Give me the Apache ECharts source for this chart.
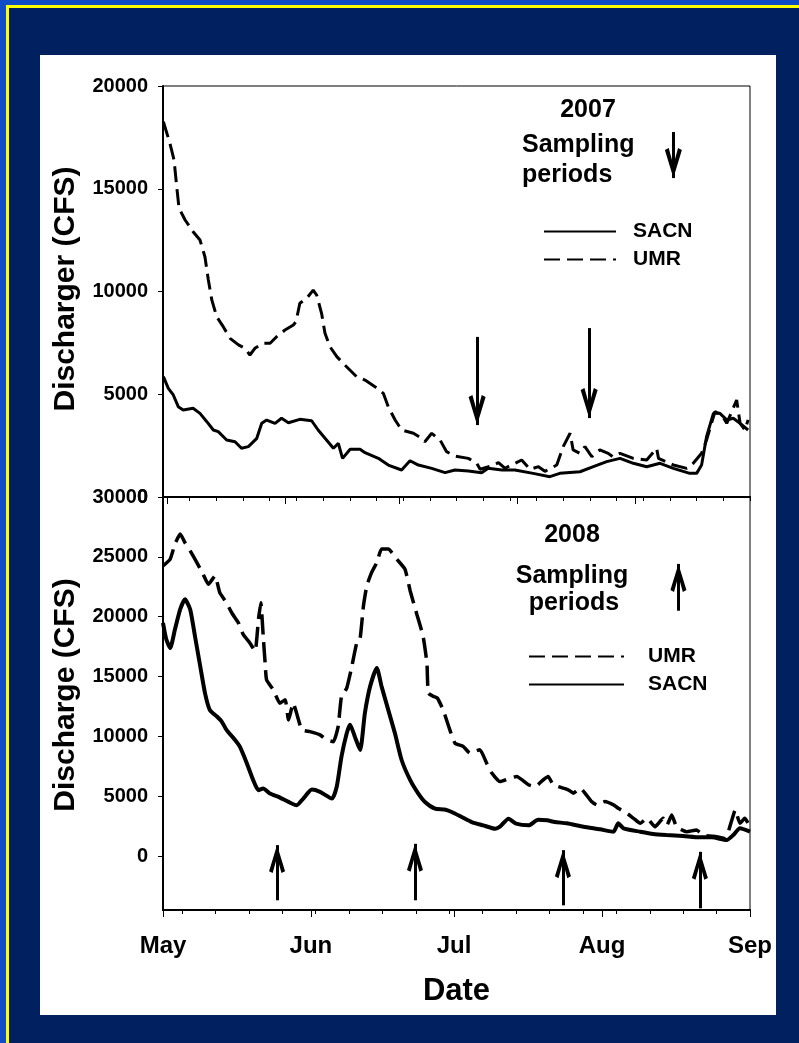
<!DOCTYPE html>
<html>
<head>
<meta charset="utf-8">
<script src="https://cdn.jsdelivr.net/npm/echarts@6.0.0/dist/echarts.min.js"></script>
<style>
  html, body { margin: 0; padding: 0; width: 799px; height: 1043px; overflow: hidden; background: #104cc6; }
  #frame { position: absolute; left: 6px; top: 5px; width: 793px; height: 1038px; box-sizing: border-box;
           border-left: 3px solid #ffff00; border-top: 3px solid #ffff00; background: #012060; }
  #panel { position: absolute; left: 40px; top: 55px; width: 736px; height: 960px; background: #ffffff; }
  #chart { position: absolute; left: 0; top: 0; width: 799px; height: 1043px; }
</style>
</head>
<body>
<div id="frame"></div>
<div id="panel"></div>
<div id="chart"></div>
<script>
// ---------- axis / tick data ----------
const monthNames = ['May', 'Jun', 'Jul', 'Aug', 'Sep'];
const monthDays2008 = [0, 31, 61, 92, 123];           // days since 2008-05-01
const weekTicks2008 = [4, 11, 18, 25, 32, 39, 46, 53, 60, 67, 74, 81, 88, 95, 102, 109, 116, 123];
const monthTicks2007 = [1, 32, 62, 93, 124];          // days since 2007-04-30
const weekTicks2007 = [0, 7, 14, 21, 28, 35, 42, 49, 56, 63, 70, 77, 84, 91, 98, 105, 112, 119, 126, 133, 140, 147, 154];
const yTicks2007 = [0, 5000, 10000, 15000, 20000];
const yTicks2008 = [0, 5000, 10000, 15000, 20000, 25000, 30000];

// ---------- 2007 series: [day since Apr 30 2007, CFS] ----------
const umr2007 = [
  [0.1,18260],[1.8,17225],[2.9,16400],[3.6,15100],[4.2,14060],[5.8,13480],[7.9,12910],[9.7,12505],
  [11.0,11690],[11.9,10560],[12.8,9590],[14.1,8770],[15.8,8290],[17.6,7720],[19.8,7400],[21.5,7235],
  [22.8,6910],[24.1,7235],[26.3,7480],[28.1,7480],[29.8,7800],[32.0,8125],[34.2,8370],[34.9,8530],
  [35.9,9425],[37.7,9670],[39.4,10070],[40.3,9830],[41.6,8940],[42.5,7965],[43.8,7315],[45.6,6830],
  [47.7,6425],[50.8,5855],[53.0,5690],[55.6,5370],[57.8,5045],[59.1,4390],[60.9,3745],[62.6,3260],
  [65.7,3100],[67.9,2855],[68.7,2690],[70.5,3100],[72.7,2770],[74.4,2205],[76.6,1995],[80.1,1880],
  [82.3,1640],[83.2,1350],[86.0,1500],[88.0,1670],[89.7,1400],[94.1,1800],[96.3,1350],[98.5,1475],
  [100.2,1250],[103.3,1555],[105.0,2450],[106.8,3100],[107.6,2290],[109.4,2125],[110.7,2450],
  [112.5,1960],[114.6,2290],[116.8,2125],[118.0,1960],[119.9,2125],[123.4,1880],[126.9,1800],
  [129.5,2370],[130.0,1880],[133.9,1555],[137.4,1395],[139.1,1640],[141.3,2125],[142.6,2770],
  [144.8,4150],[146.6,3990],[147.9,3585],[150.5,4720],[151.4,3585],[152.7,3260],[153.5,3750]
];
const sacn2007 = [
  [0.1,5855],[1.4,5290],[2.7,4965],[4.0,4395],[5.3,4235],[7.9,4315],[9.7,4070],[11.5,3665],
  [13.2,3260],[14.5,3180],[16.7,2775],[18.9,2690],[20.6,2370],[22.4,2450],[24.6,2855],[25.9,3585],
  [27.2,3745],[29.4,3585],[31.1,3830],[32.9,3615],[35.9,3780],[39.0,3710],[40.7,3260],[42.9,2775],
  [44.7,2370],[46.0,2610],[47.1,1880],[49.1,2320],[51.7,2320],[53.0,2155],[56.5,1880],[59.1,1555],
  [62.6,1315],[64.8,1765],[67.0,1555],[70.5,1395],[74.0,1185],[76.6,1315],[80.1,1265],[83.6,1185],
  [85.3,1395],[88.9,1315],[92.3,1315],[97.1,1150],[101.5,990],[104.1,1150],[109.4,1230],[112.9,1475],
  [116.4,1720],[119.9,1880],[123.4,1640],[126.9,1475],[130.4,1640],[133.9,1395],[138.2,1150],
  [140.0,1150],[141.3,1555],[142.6,2935],[144.4,4070],[146.1,4070],[147.9,3750],[149.6,3830],
  [151.4,3585],[153.5,3260]
];

// ---------- 2008 series: [day since May 1 2008, CFS] ----------
const umr2008 = [
  [0,24250],[1.5,24800],[2.5,26070],[3.6,26900],[4.6,26190],[5.7,25500],[7.1,24520],[8.4,23550],
  [9.5,22710],[10.9,23410],[11.9,22010],[13.3,21170],[14.4,20330],[15.8,19490],[16.8,18520],
  [18.2,17810],[19.3,17120],[20.0,19770],[20.5,21170],[21.0,18370],[21.4,16130],[21.7,14740],
  [23.1,13900],[24.5,12780],[25.6,13060],[26.3,11380],[27.3,12780],[28.0,11940],[29.1,10550],
  [30.8,10400],[32.9,10130],[34.3,9710],[35.7,9565],[36.7,10820],[37.4,13340],[38.5,14040],
  [39.5,15720],[40.6,17810],[41.3,18180],[42.0,20890],[42.7,22570],[43.7,23680],[44.8,24520],
  [45.8,25650],[47.2,25650],[49.0,24800],[50.7,23970],[51.8,22150],[53.2,20190],[54.5,18370],
  [55.3,16130],[55.6,13620],[56.7,13340],[57.5,13200],[58.7,12220],[60.1,10550],[61.2,9420],
  [62.9,9170],[64.3,8610],[66.4,8890],[67.8,7780],[68.9,6940],[70.6,6230],[72.7,6510],[74.1,6650],
  [76.6,5960],[78.0,5815],[79.7,6380],[80.7,6650],[81.8,5960],[84.9,5540],[86.0,5260],[87.4,5680],
  [89.8,4560],[90.9,4280],[92.6,4560],[94.4,4280],[95.4,4000],[97.2,3580],[98.6,3160],[100.0,2740],
  [101.4,3160],[103.1,2460],[104.8,3160],[105.6,2600],[106.6,3440],[107.6,2460],[109.7,2040],
  [111.8,2180],[113.2,1760],[116.0,1620],[117.8,1480],[119.2,3020],[119.9,3860],[120.9,2740],
  [121.9,3160],[123.0,2460]
];
const sacn2008 = [
  [0,19490],[0.7,18090],[1.5,17390],[2.5,18930],[3.6,20610],[4.6,21450],[5.7,20610],[6.7,18370],
  [7.8,15860],[8.8,13620],[9.8,12220],[11.3,11660],[12.3,11240],[13.3,10550],[15.1,9710],[16.1,9150],
  [17.5,7830],[18.9,6350],[20.0,5510],[21.0,5650],[22.4,5230],[24.2,4950],[26.3,4530],[28.0,4250],
  [29.4,4810],[31.2,5560],[32.9,5370],[35.4,4810],[36.4,5790],[37.4,8310],[38.5,10260],[39.2,10970],
  [40.2,9980],[41.3,8870],[42.3,11940],[43.4,14180],[44.8,15720],[45.8,14180],[47.2,12220],
  [48.6,10260],[50.0,8030],[51.8,6350],[53.5,5230],[54.9,4530],[57.0,3970],[59.0,3900],[60.5,3690],
  [62.6,3270],[64.7,2850],[67.1,2570],[69.6,2290],[70.6,2460],[72.4,3130],[74.0,2710],[76.6,2570],
  [78.6,3040],[80.5,2990],[82.1,2850],[84.6,2740],[88.1,2460],[91.6,2240],[94.4,2040],[95.4,2740],
  [96.5,2320],[100.0,2040],[102.7,1850],[105.5,1760],[109.0,1680],[112.5,1570],[115.0,1570],
  [118.1,1340],[119.5,1760],[120.9,2320],[123.0,2040]
];

// ---------- sampling-period arrows: [day, tail value, tip value] ----------
const arrows2007 = [[82.4, 7790, 3500], [111.8, 8220, 3840], [133.9, 17760, 15520]];
const arrows2008 = [[23.9, -3690, 920], [52.8, -3690, 1030], [83.8, -4110, 500], [112.5, -4360, 360], [108.0, 20500, 24410]];

// ---------- chart ----------
const FONT = 'Liberation Sans, Arial, sans-serif';
const HEAD = 'path://M8,30 L16,58 L12.4,60 L8,43 L3.6,60 L0,58 Z M8,0 L8.2,0 L8.2,0.2 Z';

function arrowLines(list, size) {
  return list.map(a => [
    { coord: [a[0], a[1]], symbol: 'none' },
    { coord: [a[0], a[2]], symbol: HEAD, symbolSize: size }
  ]);
}
function markArrows(list, size) {
  return {
    silent: true, animation: false, symbol: 'none',
    label: { show: false },
    lineStyle: { color: '#000', width: 3, type: 'solid' },
    emphasis: { disabled: true },
    data: arrowLines(list, size)
  };
}

const chart = echarts.init(document.getElementById('chart'), null, { renderer: 'canvas' });

const yLabel = { fontFamily: FONT, fontWeight: 'bold', fontSize: 20, color: '#000', margin: 15, formatter: v => String(v) };
const titleStyle = { fontFamily: FONT, fontWeight: 'bold', fontSize: 30, fill: '#000', textAlign: 'center', textVerticalAlign: 'middle' };
const noteStyle = { fontFamily: FONT, fontWeight: 'bold', fontSize: 25, fill: '#000', textVerticalAlign: 'middle' };
const legendText = { fontFamily: FONT, fontWeight: 'bold', fontSize: 21, color: '#000' };

function xAxisBase(grid, max, ticks, len) {
  return { type: 'value', gridIndex: grid, min: 0, max: max, position: 'bottom',
    axisLine: { show: true, onZero: false, lineStyle: { color: '#000', width: 2 } },
    axisTick: { show: true, inside: false, length: len, customValues: ticks, lineStyle: { color: '#000', width: 1 } },
    axisLabel: { show: false }, splitLine: { show: false } };
}

const xMonth2008 = xAxisBase(1, 123, monthDays2008, 7);
xMonth2008.name = 'Date';
xMonth2008.nameLocation = 'middle';
xMonth2008.nameGap = 66;
xMonth2008.nameTextStyle = { fontFamily: FONT, fontWeight: 'bold', fontSize: 31, color: '#000' };
xMonth2008.axisLabel = { show: true, customValues: monthDays2008, margin: 24, fontFamily: FONT, fontWeight: 'bold', fontSize: 24, color: '#000',
  formatter: v => monthNames[monthDays2008.indexOf(v)] };

chart.setOption({
  animation: false,
  backgroundColor: 'transparent',
  grid: [
    { left: 163, top: 86, width: 587, height: 411, show: true, borderColor: '#000', borderWidth: 1, backgroundColor: 'transparent' },
    { left: 163, top: 497, width: 587, height: 413, show: true, borderColor: '#000', borderWidth: 1, backgroundColor: 'transparent' }
  ],
  xAxis: [
    xAxisBase(0, 154, weekTicks2007, 4),
    xAxisBase(0, 154, monthTicks2007, 7),
    xAxisBase(1, 123, weekTicks2008, 4),
    xMonth2008
  ],
  yAxis: [
    { type: 'value', gridIndex: 0, min: 0, max: 20000, interval: 5000,
      axisLine: { show: true, onZero: false, lineStyle: { color: '#000', width: 2 } },
      axisTick: { show: true, inside: false, length: 5, customValues: yTicks2007, lineStyle: { color: '#000', width: 1 } },
      axisLabel: Object.assign({ customValues: yTicks2007 }, yLabel),
      splitLine: { show: false } },
    { type: 'value', gridIndex: 1, min: -4500, max: 30000,
      axisLine: { show: true, onZero: false, lineStyle: { color: '#000', width: 2 } },
      axisTick: { show: true, inside: false, length: 5, customValues: yTicks2008, lineStyle: { color: '#000', width: 1 } },
      axisLabel: Object.assign({ customValues: yTicks2008 }, yLabel),
      splitLine: { show: false } }
  ],
  legend: [
    { data: ['SACN', 'UMR'], left: 543, top: 221, orient: 'vertical', padding: 0, itemWidth: 72, itemHeight: 14, itemGap: 7,
      selectedMode: false, itemStyle: { opacity: 0 },
      textStyle: Object.assign({ padding: [0, 0, 0, 12] }, legendText) },
    { data: ['UMR', 'SACN'], left: 528, top: 646, orient: 'vertical', padding: 0, itemWidth: 95, itemHeight: 14, itemGap: 7,
      selectedMode: false, itemStyle: { opacity: 0 },
      textStyle: Object.assign({ padding: [0, 0, 0, 19] }, legendText) }
  ],
  graphic: [
    { type: 'text', x: 66, y: 289, rotation: Math.PI / 2, style: Object.assign({ text: 'Discharger (CFS)' }, titleStyle) },
    { type: 'text', x: 66, y: 695, rotation: Math.PI / 2, style: Object.assign({ text: 'Discharge (CFS)' }, titleStyle) },
    { type: 'text', x: 588, y: 110, style: Object.assign({ text: '2007', textAlign: 'center' }, noteStyle) },
    { type: 'text', x: 522, y: 145, style: Object.assign({ text: 'Sampling', textAlign: 'left' }, noteStyle) },
    { type: 'text', x: 522, y: 175, style: Object.assign({ text: 'periods', textAlign: 'left' }, noteStyle) },
    { type: 'text', x: 572, y: 535, style: Object.assign({ text: '2008', textAlign: 'center' }, noteStyle) },
    { type: 'text', x: 572, y: 576, style: Object.assign({ text: 'Sampling', textAlign: 'center' }, noteStyle) },
    { type: 'text', x: 574, y: 603, style: Object.assign({ text: 'periods', textAlign: 'center' }, noteStyle) }
  ],
  series: [
    { name: 'UMR', type: 'line', xAxisIndex: 0, yAxisIndex: 0, data: umr2007, symbol: 'none', showSymbol: false,
      lineStyle: { color: '#000', width: 3, type: [16, 7] }, itemStyle: { color: '#000' }, z: 3 },
    { name: 'SACN', type: 'line', xAxisIndex: 0, yAxisIndex: 0, data: sacn2007, symbol: 'none', showSymbol: false,
      lineStyle: { color: '#000', width: 3, type: 'solid' }, itemStyle: { color: '#000' }, z: 3,
      markLine: markArrows(arrows2007, [17, 60]) },
    { name: 'UMR', type: 'line', xAxisIndex: 2, yAxisIndex: 1, data: umr2008, symbol: 'none', showSymbol: false, smooth: 0.15,
      lineStyle: { color: '#000', width: 3.5, type: [20, 8] }, itemStyle: { color: '#000' }, z: 3 },
    { name: 'SACN', type: 'line', xAxisIndex: 2, yAxisIndex: 1, data: sacn2008, symbol: 'none', showSymbol: false, smooth: 0.2,
      lineStyle: { color: '#000', width: 4, type: 'solid' }, itemStyle: { color: '#000' }, z: 3,
      markLine: markArrows(arrows2008, [16, 56]) }
  ]
});
</script>
</body>
</html>
